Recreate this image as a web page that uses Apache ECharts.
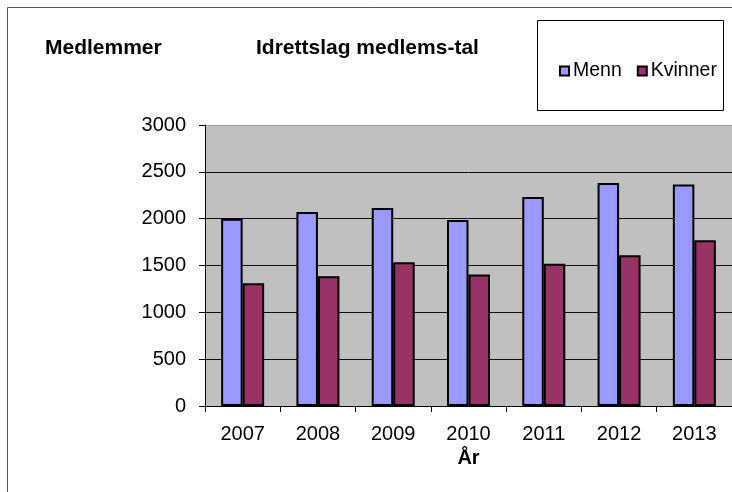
<!DOCTYPE html>
<html>
<head>
<meta charset="utf-8">
<script src="https://cdn.jsdelivr.net/npm/echarts@6/dist/echarts.min.js"></script>
<style>
html,body{margin:0;padding:0;background:#fff;}
#chart{width:732px;height:492px;}
</style>
</head>
<body>
<div id="chart"></div>
<script>
const categories = ['2007', '2008', '2009', '2010', '2011', '2012', '2013'];
const menn = [2000, 2070, 2115, 1985, 2230, 2380, 2365];
const kvinner = [1310, 1385, 1535, 1405, 1520, 1610, 1770];
const yTicks = [0, 500, 1000, 1500, 2000, 2500, 3000];

const FONT = '"Liberation Sans", Arial, sans-serif';
const chart = echarts.init(document.getElementById('chart'), null, {renderer: 'canvas'});
chart.setOption({
  animation: false,
  backgroundColor: '#fff',
  graphic: [
    {type: 'rect', z: -10, shape: {x: 7.5, y: 7.5, width: 900, height: 700}, style: {fill: '#fff', stroke: '#555', lineWidth: 1}},
    {type: 'rect', z: 1, shape: {x: 537.5, y: 20.5, width: 186, height: 90}, style: {fill: '#fff', stroke: '#000', lineWidth: 1}},
    {type: 'text', z: 2, x: 45, y: 48, style: {text: 'Medlemmer', font: 'bold 21px ' + FONT, fill: '#000', textVerticalAlign: 'middle'}},
    {type: 'text', z: 2, x: 256, y: 48, style: {text: 'Idrettslag medlems-tal', font: 'bold 21px ' + FONT, fill: '#000', textVerticalAlign: 'middle'}}
  ],
  legend: {
    left: 554, top: 56, z: 5,
    itemWidth: 9, itemHeight: 9, itemGap: 15,
    icon: 'rect',
    itemStyle: {borderColor: '#000', borderWidth: 2},
    textStyle: {fontFamily: FONT, fontSize: 19.5, color: '#000', padding: [0, 0, 0, -1]},
    data: ['Menn', 'Kvinner']
  },
  grid: {
    left: 205, top: 125, width: 528, height: 281,
    show: true, backgroundColor: '#c0c0c0', borderWidth: 0
  },
  xAxis: {
    type: 'category',
    data: categories,
    name: 'År',
    nameLocation: 'middle',
    nameGap: 41,
    nameTextStyle: {fontFamily: FONT, fontSize: 20, fontWeight: 'bold', color: '#000'},
    axisLine: {lineStyle: {color: '#000', width: 1}},
    axisTick: {show: true, length: 6, lineStyle: {color: '#000'}},
    axisLabel: {fontFamily: FONT, fontSize: 20, color: '#000', margin: 18},
    splitLine: {show: false}
  },
  yAxis: {
    type: 'value',
    min: yTicks[0], max: yTicks[yTicks.length - 1], interval: 500,
    axisLine: {show: true, lineStyle: {color: '#000', width: 1}},
    axisTick: {show: true, length: 6, lineStyle: {color: '#000'}},
    axisLabel: {fontFamily: FONT, fontSize: 20, color: '#000', margin: 19, formatter: function (v) { return String(v); }},
    splitLine: {show: true, lineStyle: {color: ['#111', '#111', '#111', '#111', '#111', '#111', '#999'], width: 1}}
  },
  series: [
    {name: 'Menn', type: 'bar', data: menn, barWidth: 21.5, barGap: '0%',
     itemStyle: {color: '#9999ff', borderColor: '#000', borderWidth: 2}},
    {name: 'Kvinner', type: 'bar', data: kvinner, barWidth: 21.5, barGap: '0%',
     itemStyle: {color: '#993366', borderColor: '#000', borderWidth: 2}}
  ]
});
</script>
</body>
</html>
